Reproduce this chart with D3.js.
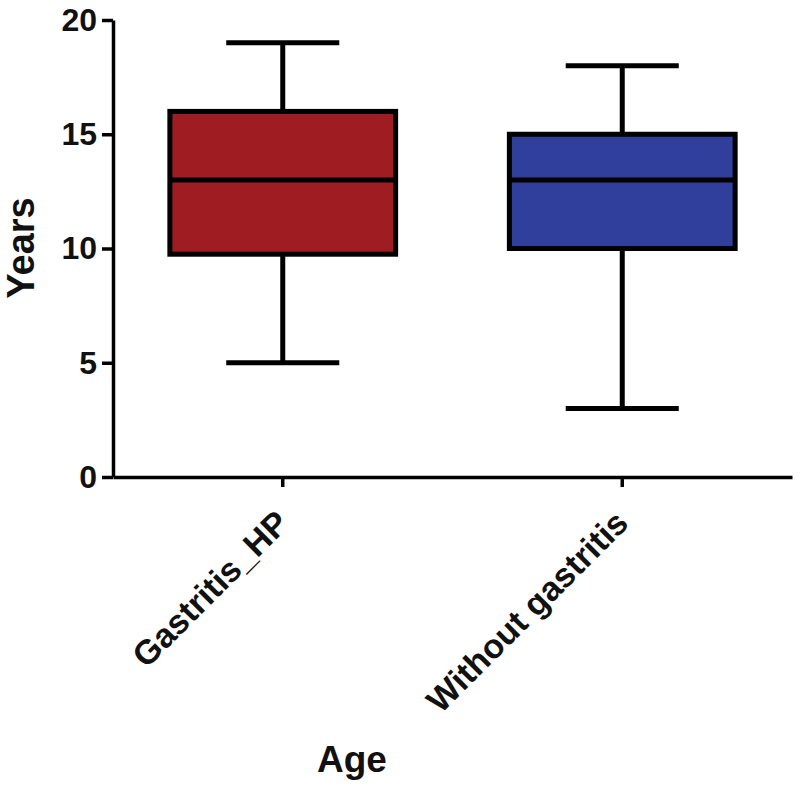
<!DOCTYPE html>
<html>
<head>
<meta charset="utf-8">
<script src="https://cdn.jsdelivr.net/npm/d3@7"></script>
<style>
  body { margin: 0; background: #fff; }
  text { font-family: "Liberation Sans", Arial, Helvetica, sans-serif; font-weight: bold; fill: #111; }
</style>
</head>
<body>
<svg id="chart" width="800" height="788"></svg>
<script>
const categories = ["Gastritis_HP", "Without gastritis"];
const whiskerLow = [5, 3];
const q1 = [9.75, 10];
const median = [13, 13];
const q3 = [16, 15];
const whiskerHigh = [19, 18];
const colors = ["#9E1C22", "#2F3F9B"];
const yTicks = [0, 5, 10, 15, 20];
const yLabel = "Years";
const xLabel = "Age";

const svg = d3.select("#chart");
const x = d3.scaleBand().domain(categories).range([113, 792]).padding(0);
const y = d3.scaleLinear().domain([0, 20]).range([477, 20]);

const data = categories.map((c, i) => ({
  c, lo: whiskerLow[i], q1: q1[i], med: median[i], q3: q3[i], hi: whiskerHigh[i], color: colors[i]
}));

const boxW = x.bandwidth() * 0.665;
const capW = x.bandwidth() * 0.333;
const sw = 5;

const g = svg.append("g");
data.forEach(d => {
  const cx = x(d.c) + x.bandwidth() / 2;
  g.append("line").attr("x1", cx).attr("x2", cx).attr("y1", y(d.hi)).attr("y2", y(d.q3))
    .attr("stroke", "#000").attr("stroke-width", sw);
  g.append("line").attr("x1", cx).attr("x2", cx).attr("y1", y(d.q1)).attr("y2", y(d.lo))
    .attr("stroke", "#000").attr("stroke-width", sw);
  g.append("line").attr("x1", cx - capW / 2).attr("x2", cx + capW / 2).attr("y1", y(d.hi)).attr("y2", y(d.hi))
    .attr("stroke", "#000").attr("stroke-width", sw);
  g.append("line").attr("x1", cx - capW / 2).attr("x2", cx + capW / 2).attr("y1", y(d.lo)).attr("y2", y(d.lo))
    .attr("stroke", "#000").attr("stroke-width", sw);
  g.append("rect").attr("x", cx - boxW / 2).attr("width", boxW)
    .attr("y", y(d.q3)).attr("height", y(d.q1) - y(d.q3))
    .attr("fill", d.color).attr("stroke", "#000").attr("stroke-width", sw);
  g.append("line").attr("x1", cx - boxW / 2).attr("x2", cx + boxW / 2).attr("y1", y(d.med)).attr("y2", y(d.med))
    .attr("stroke", "#000").attr("stroke-width", sw);
});

// Y axis
const yAxis = svg.append("g").attr("transform", "translate(113,0)")
  .call(d3.axisLeft(y).tickValues(yTicks).tickSize(11).tickPadding(5).tickSizeOuter(0));
yAxis.select(".domain").attr("stroke", "#000").attr("stroke-width", 3.5);
yAxis.selectAll(".tick line").attr("stroke", "#000").attr("stroke-width", 3.5);
yAxis.selectAll(".tick text").style("font-size", "32px").attr("fill", "#111")
  .style("font-family", "'Liberation Sans', Arial, sans-serif").style("font-weight", "bold");

// X axis
const xAxis = svg.append("g").attr("transform", "translate(0,477)")
  .call(d3.axisBottom(x).tickSize(10).tickSizeOuter(0));
xAxis.select(".domain").attr("stroke", "#000").attr("stroke-width", 3.5);
xAxis.selectAll(".tick line").attr("stroke", "#000").attr("stroke-width", 3.5);
xAxis.selectAll(".tick text").style("font-size", "34px").attr("fill", "#111")
  .style("font-family", "'Liberation Sans', Arial, sans-serif").style("font-weight", "bold")
  .attr("text-anchor", "end").attr("dy", null).attr("y", 0)
  .attr("transform", "translate(8,48) rotate(-45)");

// Axis titles
svg.append("text").attr("transform", "translate(34,248) rotate(-90)")
  .attr("text-anchor", "middle").style("font-size", "38px").text(yLabel);
svg.append("text").attr("x", 352).attr("y", 772)
  .attr("text-anchor", "middle").style("font-size", "37px").text(xLabel);
</script>
</body>
</html>
